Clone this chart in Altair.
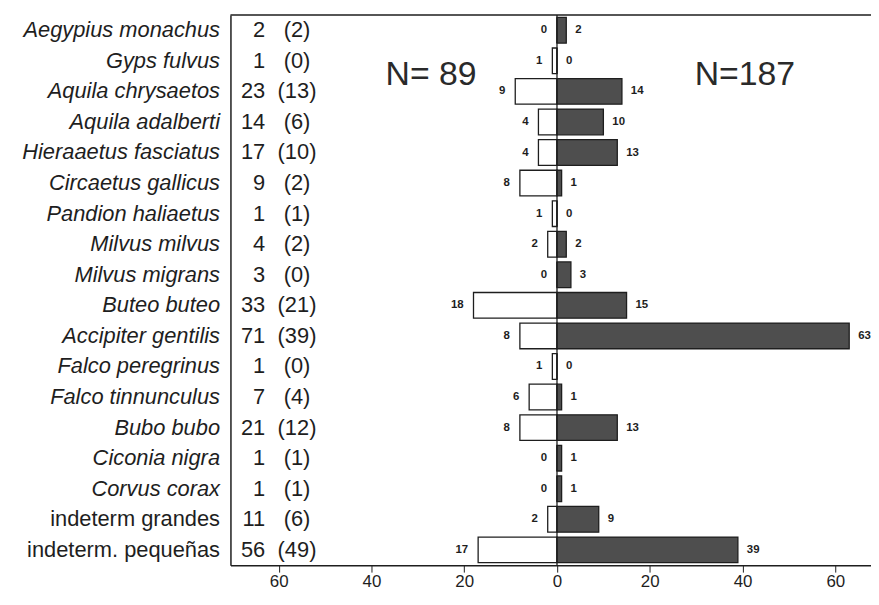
import altair as alt
import pandas as pd

species = [
    "Aegypius monachus", "Gyps fulvus", "Aquila chrysaetos", "Aquila adalberti",
    "Hieraaetus fasciatus", "Circaetus gallicus", "Pandion haliaetus", "Milvus milvus",
    "Milvus migrans", "Buteo buteo", "Accipiter gentilis", "Falco peregrinus",
    "Falco tinnunculus", "Bubo bubo", "Ciconia nigra", "Corvus corax",
    "indeterm grandes", "indeterm. pequeñas",
]
left_vals = [0, 1, 9, 4, 4, 8, 1, 2, 0, 18, 8, 1, 6, 8, 0, 0, 2, 17]
right_vals = [2, 0, 14, 10, 13, 1, 0, 2, 3, 15, 63, 0, 1, 13, 1, 1, 9, 39]
totals = [2, 1, 23, 14, 17, 9, 1, 4, 3, 33, 71, 1, 7, 21, 1, 1, 11, 56]
in_paren = [2, 0, 13, 6, 10, 2, 1, 2, 0, 21, 39, 0, 4, 12, 1, 1, 6, 49]
n_labels = ["N= 89", "N=187"]
x_ticks = [-60, -40, -20, 0, 20, 40, 60]

rows = []
for i, s in enumerate(species):
    rows.append(dict(species=s, side="left", start=0, end=-left_vals[i], value=left_vals[i]))
    rows.append(dict(species=s, side="right", start=0, end=right_vals[i], value=right_vals[i]))
bars_df = pd.DataFrame(rows)
info_df = pd.DataFrame(dict(species=species, total=totals,
                            paren=[f"({v})" for v in in_paren]))
one_df = pd.DataFrame({"z": [0]})

W, H = 645, 554
FONT = "Liberation Sans"
INK = "#1e1e1e"

xscale = alt.Scale(domain=[-70.4, 67.7], nice=False, zero=False)
yscale = alt.Scale(domain=species, paddingInner=0.16, paddingOuter=0.08)

x_axis = alt.Axis(values=x_ticks, labelExpr="abs(datum.value)", grid=False,
                  domainColor=INK, domainWidth=1.5, tickColor=INK, tickSize=7,
                  tickWidth=1, labelFont=FONT, labelFontSize=17, labelColor=INK,
                  labelPadding=2, title=None)
y_axis = alt.Axis(grid=False, ticks=False, domainColor=INK, domainWidth=1.5,
                  labelFont=FONT, labelFontSize=22, labelColor=INK, labelPadding=11,
                  labelLimit=400, title=None,
                  labelFontStyle={"condition": {"test": "indexof(datum.label, 'indeterm') >= 0",
                                                "value": "normal"},
                                  "value": "italic"})

y_enc = alt.Y("species:N", scale=yscale, sort=species, axis=y_axis)

bars = alt.Chart(bars_df).mark_bar(stroke=INK, strokeWidth=1.3).encode(
    x=alt.X("end:Q", scale=xscale, axis=x_axis),
    x2="start:Q",
    y=y_enc,
    fill=alt.Fill("side:N", scale=alt.Scale(domain=["left", "right"],
                                            range=["white", "#4e4e4e"]), legend=None),
)

left_lbl = alt.Chart(bars_df).transform_filter("datum.side == 'left'").mark_text(
    align="right", baseline="middle", dx=-10, font=FONT, fontSize=11.5,
    fontWeight="bold", color=INK
).encode(x=alt.X("end:Q", scale=xscale, axis=x_axis), y=y_enc, text="value:Q")

right_lbl = alt.Chart(bars_df).transform_filter("datum.side == 'right'").mark_text(
    align="left", baseline="middle", dx=9, font=FONT, fontSize=11.5,
    fontWeight="bold", color=INK
).encode(x=alt.X("end:Q", scale=xscale, axis=x_axis), y=y_enc, text="value:Q")

tot_txt = alt.Chart(info_df).mark_text(
    align="right", baseline="middle", font=FONT, fontSize=22, color=INK
).encode(x=alt.value(35), y=y_enc, text="total:Q")

par_txt = alt.Chart(info_df).mark_text(
    align="center", baseline="middle", font=FONT, fontSize=22, color=INK
).encode(x=alt.value(67), y=y_enc, text="paren:N")

zero_rule = alt.Chart(one_df).mark_rule(color=INK, strokeWidth=1.3).encode(
    x=alt.X("z:Q", scale=xscale, axis=x_axis))

top_rule = alt.Chart(one_df).mark_rule(color=INK, strokeWidth=1.5).encode(
    x=alt.value(0), x2=alt.value(W), y=alt.value(0))

n_left = alt.Chart(pd.DataFrame({"t": [n_labels[0]]})).mark_text(
    align="center", baseline="middle", font=FONT, fontSize=34, color="#2a2a2a"
).encode(x=alt.value(202), y=alt.value(61), text="t:N")

n_right = alt.Chart(pd.DataFrame({"t": [n_labels[1]]})).mark_text(
    align="center", baseline="middle", font=FONT, fontSize=34, color="#2a2a2a"
).encode(x=alt.value(518), y=alt.value(61), text="t:N")

chart = alt.layer(
    bars, zero_rule, left_lbl, right_lbl, tot_txt, par_txt, top_rule, n_left, n_right
).properties(
    width=W, height=H,
    autosize=alt.AutoSizeParams(type="none"),
    padding={"left": 224, "top": 5, "right": 0, "bottom": 24},
    background="white",
).configure_view(stroke=None)

chart.save("out.html", embed_options={"renderer": "svg", "actions": False})
